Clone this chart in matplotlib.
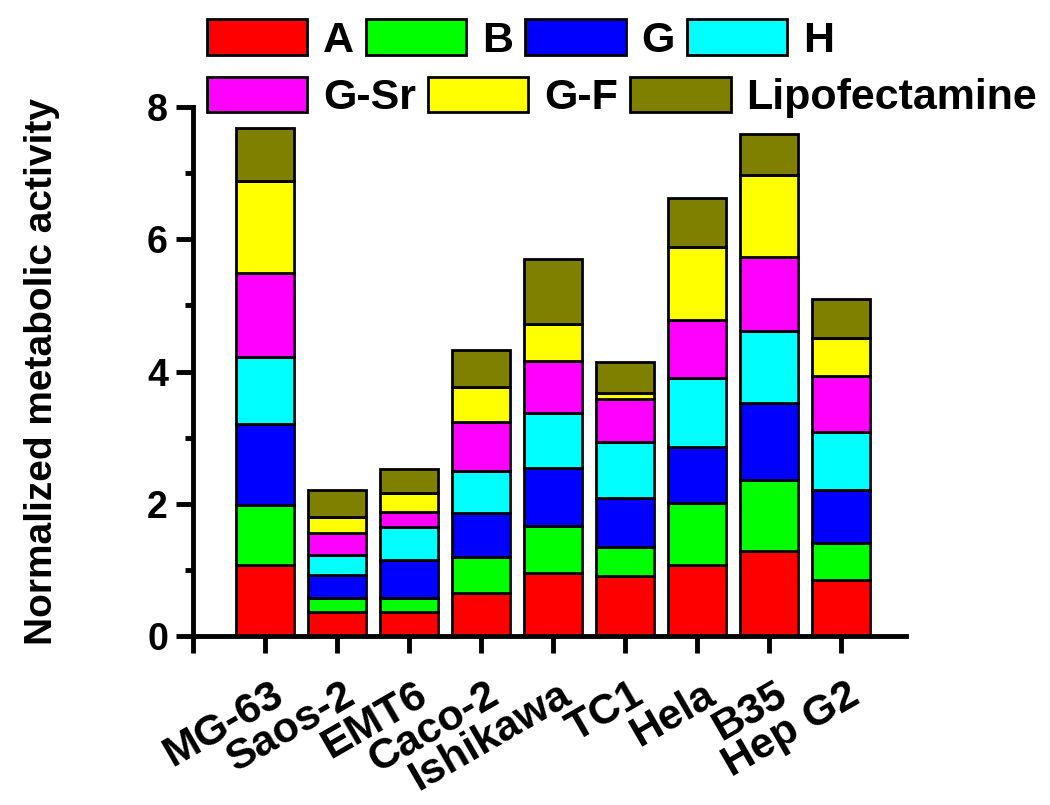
import matplotlib
matplotlib.use("Agg")
import matplotlib.pyplot as plt
import matplotlib.transforms as mtransforms
import numpy as np

plt.rcParams["font.family"] = ["Liberation Sans", "DejaVu Sans"]
plt.rcParams["font.weight"] = "bold"

# cell lines on the x axis
cells = ["MG-63", "Saos-2", "EMT6", "Caco-2", "Ishikawa", "TC1", "Hela", "B35", "Hep G2"]

# stacked segments
A = [1.07, 0.37, 0.37, 0.65, 0.95, 0.91, 1.08, 1.28, 0.84]
B = [0.91, 0.21, 0.20, 0.54, 0.72, 0.44, 0.93, 1.08, 0.56]
G = [1.22, 0.35, 0.58, 0.67, 0.87, 0.74, 0.85, 1.16, 0.81]
H = [1.02, 0.30, 0.50, 0.64, 0.83, 0.85, 1.04, 1.10, 0.87]
G_Sr = [1.27, 0.33, 0.23, 0.74, 0.79, 0.65, 0.88, 1.11, 0.86]
G_F = [1.40, 0.24, 0.29, 0.52, 0.56, 0.09, 1.10, 1.25, 0.57]
Lipo = [0.80, 0.41, 0.35, 0.56, 0.98, 0.47, 0.75, 0.61, 0.59]

series = [A, B, G, H, G_Sr, G_F, Lipo]
names = ["A", "B", "G", "H", "G-Sr", "G-F", "Lipofectamine"]
colors = ["#FF0000", "#00FF00", "#0000FF", "#00FFFF", "#FF00FF", "#FFFF00", "#808000"]

fig = plt.figure(figsize=(10.5, 8.05), dpi=100)
ax = fig.add_axes([0.1838, 0.2099, 0.679, 0.657])

x = np.arange(1, len(cells) + 1)
bottom = np.zeros(len(cells))
handles = []
for vals, name, col in zip(series, names, colors):
    b = ax.bar(x, vals, 0.8, bottom=bottom, color=col, edgecolor="black",
               linewidth=2, label=name)
    handles.append(b)
    bottom = bottom + np.array(vals)

ax.set_xlim(0, 9.9)
ax.set_ylim(0, 8)
for s in ["top", "right"]:
    ax.spines[s].set_visible(False)
for s in ["left", "bottom"]:
    ax.spines[s].set_linewidth(3.5)

ax.set_yticks([0, 2, 4, 6, 8])
ax.set_yticks([1, 3, 5, 7], minor=True)
ax.tick_params(axis="y", which="major", length=12, width=3.5, labelsize=27, pad=6)
ax.tick_params(axis="y", which="minor", length=6, width=3.5)
ax.set_xticks(np.arange(0, 10))
ax.set_xticklabels([""] + cells)
ax.tick_params(axis="x", length=12, width=3.5, labelsize=31, pad=16)
offset = mtransforms.ScaledTranslation(0.05, 0, fig.dpi_scale_trans)
for lab in ax.get_xticklabels():
    lab.set_rotation(30)
    lab.set_ha("right")
    lab.set_va("top")
    lab.set_rotation_mode("anchor")
    lab.set_transform(lab.get_transform() + offset)

ax.set_ylabel("Normalized metabolic activity", fontsize=28, fontweight="bold")
ax.yaxis.set_label_coords(-0.1865, 0.5)

leg_kw = dict(frameon=False, fontsize=31, handlelength=2.33, handleheight=0.9,
              handletextpad=0.37, columnspacing=0.28, borderpad=0, borderaxespad=0,
              loc="center left")
leg1 = fig.legend(handles[:4], names[:4], ncol=4,
                  bbox_to_anchor=(0.197, 0.950), **leg_kw)
leg2 = fig.legend(handles[4:], names[4:], ncol=3,
                  bbox_to_anchor=(0.197, 0.879), **leg_kw)

fig.savefig("out.png", dpi=100)
